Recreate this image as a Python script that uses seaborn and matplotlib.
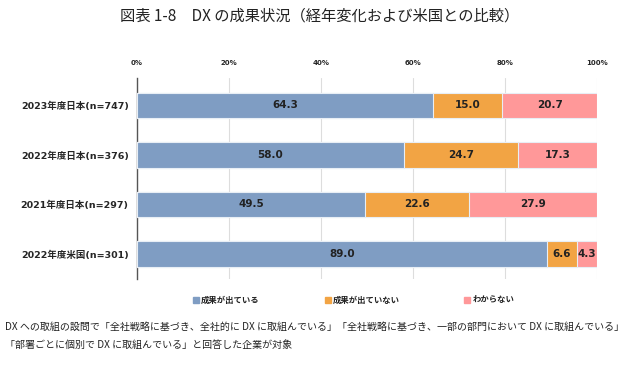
import numpy as np
import pandas as pd
import matplotlib
matplotlib.use("Agg")
import matplotlib.pyplot as plt
import seaborn as sns

# --- data ---
groups = ["2023年度日本(n=747)", "2022年度日本(n=376)",
          "2021年度日本(n=297)", "2022年度米国(n=301)"]
series = ["成果が出ている", "成果が出ていない", "わからない"]
yes_vals = [64.3, 58.0, 49.5, 89.0]
no_vals = [15.0, 24.7, 22.6, 6.6]
unknown_vals = [20.7, 17.3, 27.9, 4.3]
colors = ["#7f9dc3", "#f2a444", "#ff9899"]

title = "図表 1-8　DX の成果状況（経年変化および米国との比較）"
note_lines = [
    "DX への取組の設問で「全社戦略に基づき、全社的に DX に取組んでいる」「全社戦略に基づき、一部の部門において DX に取組んでいる」",
    "「部署ごとに個別で DX に取組んでいる」と回答した企業が対象",
]

sns.set_theme(style="white")
plt.rcParams["font.family"] = ["Noto Sans CJK JP", "DejaVu Sans"]
latin_first = ["DejaVu Sans", "Noto Sans CJK JP"]

df = pd.DataFrame({"group": groups, series[0]: yes_vals,
                   series[1]: no_vals, series[2]: unknown_vals})
vals = df[series].to_numpy()
cum = vals.cumsum(axis=1)

fig = plt.figure(figsize=(6.3, 3.85), dpi=100)
ax = fig.add_axes([0.2175, 0.276, 0.7305, 0.521])

# stacked bars: draw cumulative totals from the outermost segment inward
for i in range(len(series) - 1, -1, -1):
    sns.barplot(x=cum[:, i], y=df["group"], orient="h", color=colors[i],
                saturation=1, width=0.52, edgecolor="#e8eef5",
                linewidth=0.8, ax=ax, zorder=3)

# segment value labels
for r in range(len(groups)):
    for i in range(len(series)):
        start = cum[r, i] - vals[r, i]
        ax.text(start + vals[r, i] / 2, r, f"{vals[r, i]:.1f}",
                ha="center", va="center", fontsize=7.5, fontweight="bold",
                family="DejaVu Sans", color="#222222", zorder=4)

ax.set_xlim(0, 100)
ax.set_ylim(3.5, -0.55)
ax.xaxis.tick_top()
ax.set_xticks(np.arange(0, 101, 20))
ax.set_xticklabels([f"{t}%" for t in range(0, 101, 20)], fontsize=5,
                   fontweight="bold", family="DejaVu Sans")
ax.tick_params(axis="x", length=0, pad=9)
ax.tick_params(axis="y", length=0, pad=6)
for lab in ax.get_yticklabels():
    lab.set_fontsize(6.8)
    lab.set_fontweight("bold")
    lab.set_family(latin_first)
ax.set_xlabel("")
ax.set_ylabel("")
ax.grid(axis="x", color="#dddddd", linewidth=0.8, zorder=0)
for s in ["top", "right", "bottom"]:
    ax.spines[s].set_visible(False)
ax.spines["left"].set_color("#555555")
ax.spines["left"].set_linewidth(1.0)

# legend placed by hand to match the spaced-out reference
legend_x = [0.306, 0.516, 0.737]
for x, c, name in zip(legend_x, colors, series):
    fig.patches.append(plt.Rectangle((x, 0.213), 0.0095, 0.0155, color=c,
                                     transform=fig.transFigure, figure=fig))
    fig.text(x + 0.013, 0.221, name, ha="left", va="center", fontsize=6,
             fontweight="bold", color="#222222")

fig.text(0.507, 0.958, title, ha="center", va="center", fontsize=11,
         color="#222222")
fig.text(0.008, 0.152, note_lines[0], ha="left", va="center", fontsize=7.2,
         color="#222222")
fig.text(0.008, 0.105, note_lines[1], ha="left", va="center", fontsize=7.2,
         color="#222222")

fig.savefig("out.png", dpi=100)
